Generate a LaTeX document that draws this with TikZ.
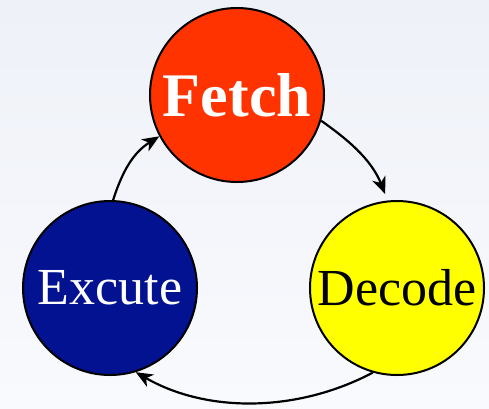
\documentclass[tikz,border=0pt]{standalone}
\usepackage{fontspec}
\setmainfont{Liberation Serif}
\usetikzlibrary{arrows.meta}
\definecolor{fetchred}{HTML}{FF3300}
\definecolor{decodeyellow}{HTML}{FFFF00}
\definecolor{execnavy}{HTML}{031290}
\definecolor{bgtop}{HTML}{EEF1F8}
\definecolor{bgbottom}{HTML}{F9FAFD}
\tikzset{
  stage/.style={circle, draw=black, line width=2pt, minimum size=174pt, inner sep=0pt},
  flow/.style={line width=2.2pt, -{Stealth[length=17pt, width=14pt, inset=5pt]}},
}
\begin{document}
\begin{tikzpicture}[x=1pt, y=-1pt]
  \useasboundingbox (0,0) rectangle (489,408);
  \shade[top color=bgtop, bottom color=bgbottom] (0,0) rectangle (489,408);

  \node[stage, fill=fetchred, text=white, font=\fontsize{62}{62}\selectfont\bfseries] (fetch) at (237,95) {Fetch};
  \node[stage, fill=decodeyellow, text=black, font=\fontsize{52}{52}\selectfont] (decode) at (397,288) {Decode};
  \node[stage, fill=execnavy, text=white, font=\fontsize{52}{52}\selectfont] (execute) at (110,288) {Excute};

  \draw[flow] (execute.88) to[out=72, in=212] (fetch.208);
  \draw[flow, shorten >=7pt] (fetch.-17) to[out=-35, in=112] (decode.96);
  \draw[flow] (decode.254) to[out=208, in=-30, looseness=0.9] (execute.287);
\end{tikzpicture}
\end{document}
